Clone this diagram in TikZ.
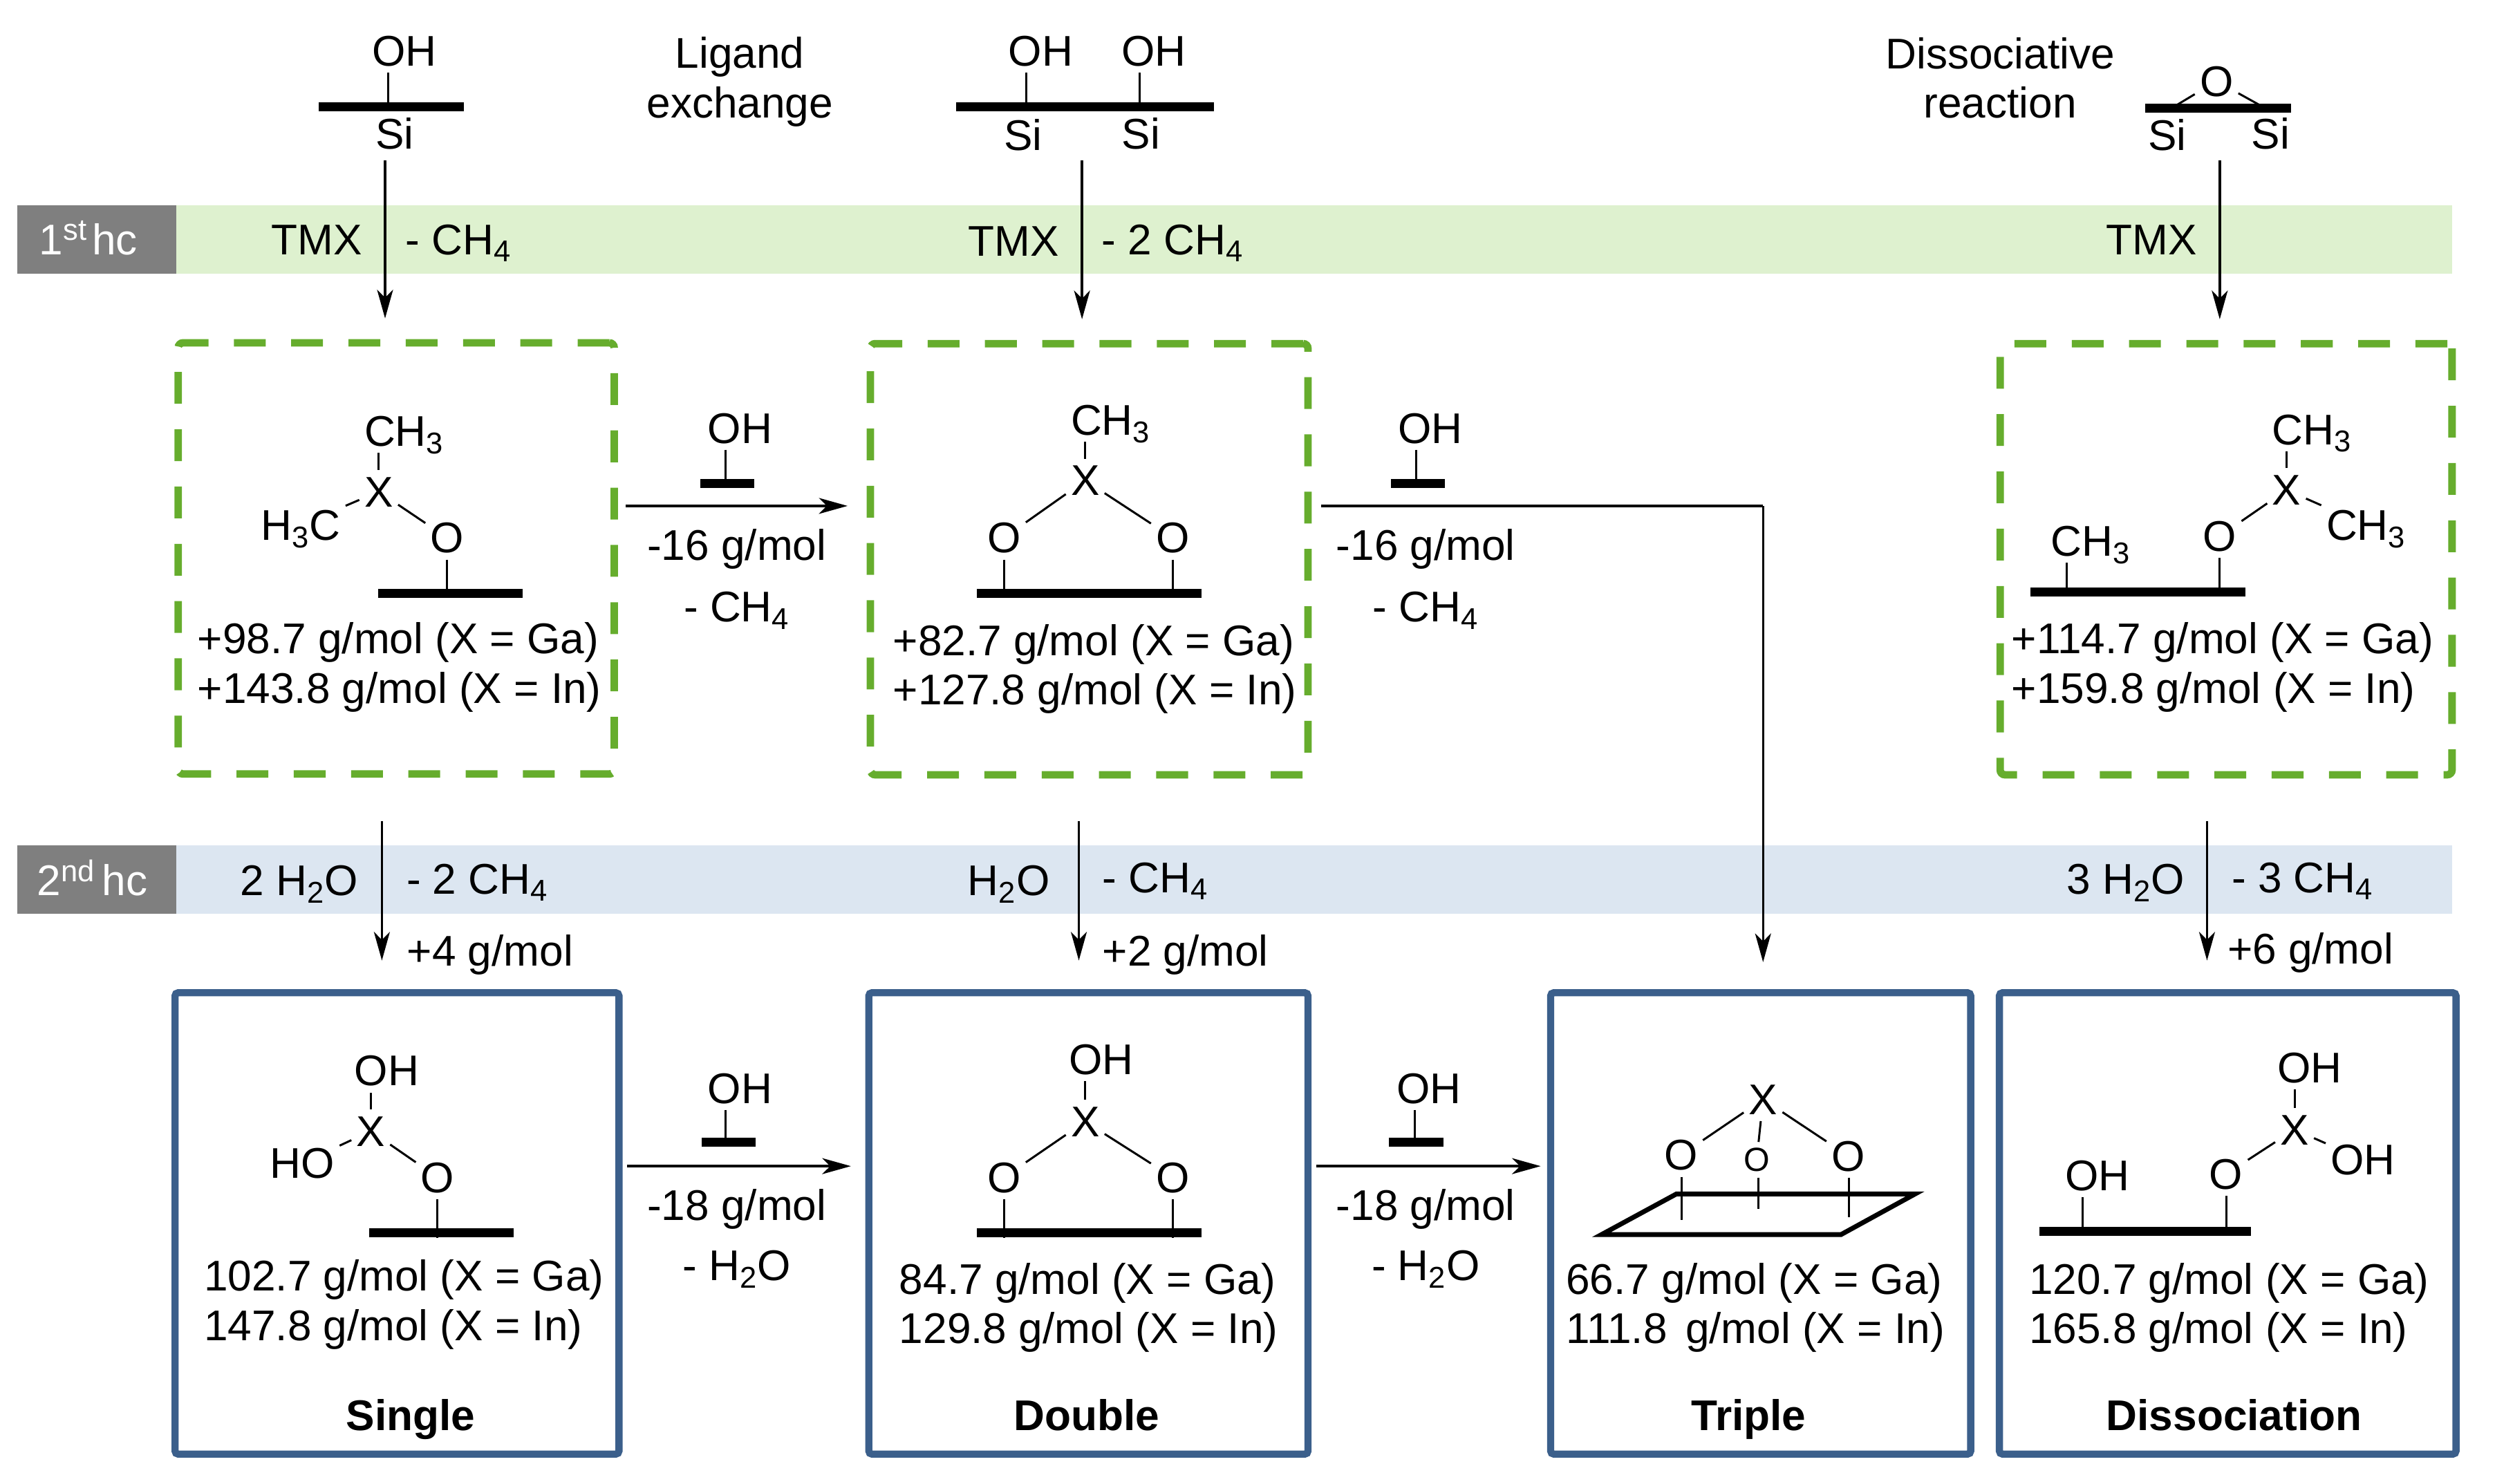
\documentclass[tikz,border=0pt]{standalone}
\usepackage{fontspec}
\usepackage{xcolor}
\setmainfont{Liberation Sans}
\usepackage{tikz}
\usetikzlibrary{arrows.meta, positioning}

\definecolor{bandgreen}{HTML}{DEF1CF}
\definecolor{bandblue}{HTML}{DCE6F1}
\definecolor{bandgray}{HTML}{7F7F7F}
\definecolor{dashgreen}{HTML}{66AD2D}
\definecolor{boxblue}{HTML}{3B5F8B}

\begin{document}
\begin{tikzpicture}[
    x=1pt, y=-1pt,
    txt/.style={font=\fontsize{27}{31}\selectfont, inner sep=0pt},
    lbl/.style={txt, text height=20pt, text depth=2pt},
    atom/.style={txt, inner sep=3pt, text height=20pt, text depth=1pt},
    smallatom/.style={atom, font=\fontsize{21}{25}\selectfont, text height=15pt},
    mass/.style={txt, anchor=west, align=left},
    title/.style={lbl, font=\fontsize{27}{31}\selectfont\bfseries},
    band/.style={inner sep=0pt, minimum height=43pt},
    tag/.style={band, fill=bandgray, minimum width=100pt},
    tagtxt/.style={lbl, text=white},
    dashbox/.style={draw=dashgreen, line width=4.7pt, rounded corners=3pt, dash pattern=on 20pt off 16pt, inner sep=0pt},
    solidbox/.style={draw=boxblue, line width=4.5pt, rounded corners=2pt, inner sep=0pt},
    slab/.style={fill=black, inner sep=0pt, minimum height=5.5pt},
    bond/.style={line width=1.3pt},
    flow/.style={line width=1.5pt, -{Stealth[length=18pt,width=10pt,inset=5pt]}},
]
\useasboundingbox (0,0) rectangle (1568,932.4);

% Bands for the two half cycles
\node[band, fill=bandgreen, minimum width=1430pt] (bandA) at (826,150.5) {};
\node[band, fill=bandblue, minimum width=1430pt] (bandB) at (826,553) {};
\node[tag] (tagA) at (61,150.5) {};
\node[tag] (tagB) at (61,553) {};
\node[tagtxt] (tagTxtA) at (55.5,151) {1\textsuperscript{st}\hspace{3pt}hc};
\node[tagtxt] (tagTxtB) at (58,554) {2\textsuperscript{nd}\hspace{4.5pt}hc};

% Product boxes, first half cycle
\node[dashbox, minimum width=274pt, minimum height=271pt] (dashA) at (249,351) {};
\node[dashbox, minimum width=275pt, minimum height=271pt] (dashB) at (684.5,351.5) {};
\node[dashbox, minimum width=284pt, minimum height=271pt] (dashC) at (1399,351.5) {};

% Product boxes, second half cycle
\node[solidbox, minimum width=279pt, minimum height=290pt] (solidA) at (249.5,769) {};
\node[solidbox, minimum width=276pt, minimum height=290pt] (solidB) at (684,769) {};
\node[solidbox, minimum width=264pt, minimum height=290pt] (solidC) at (1106.5,769) {};
\node[solidbox, minimum width=287pt, minimum height=290pt] (solidD) at (1400,769) {};

% Section labels
\node[txt, align=center] (ligand) at (465,51.5) {Ligand\\exchange};
\node[txt, align=center] (dissoc) at (1257,49) {Dissociative\\reaction};

% Surface, single OH
\node[atom] (ohTop) at (254,32) {OH};
\node[slab, minimum width=91pt] (barTop) at (246,67) {};
\node[atom] (siTop) at (248,84) {Si};
\draw[bond] ([xshift=-10pt]ohTop.south) -- ([xshift=-10pt]ohTop.south |- barTop.center);

% Surface, two OH
\node[atom] (ohTopL) at (654,32) {OH};
\node[atom] (ohTopR) at (725,32) {OH};
\node[slab, minimum width=162pt] (barTwo) at (682,67) {};
\node[atom] (siTwoL) at (643,85) {Si};
\node[atom] (siTwoR) at (717,84) {Si};
\draw[bond] ([xshift=-9pt]ohTopL.south) -- ([xshift=-9pt]ohTopL.south |- barTwo.center);
\draw[bond] ([xshift=-9pt]ohTopR.south) -- ([xshift=-9pt]ohTopR.south |- barTwo.center);

% Surface, siloxane bridge
\node[atom] (oDis) at (1393,51) {O};
\node[slab, minimum width=92pt] (barDis) at (1394,68) {};
\node[atom] (siDisL) at (1362,85) {Si};
\node[atom] (siDisR) at (1427,84) {Si};
\coordinate (disL) at (1368,66);
\coordinate (disR) at (1420,66);
\draw[bond] (oDis) -- (disL);
\draw[bond] (oDis) -- (disR);

% First half cycle arrows
\coordinate (startA) at (242,101);
\coordinate (startB) at (680,101);
\coordinate (startC) at (1395,101);
\draw[flow, shorten >=13pt] (startA) -- (startA |- dashA.north);
\draw[flow, shorten >=13pt] (startB) -- (startB |- dashB.north);
\draw[flow, shorten >=13pt] (startC) -- (startC |- dashC.north);
\node[lbl] (tmxA) at (199,151) {TMX};
\node[lbl] (lossA) at (288,151) {- CH\textsubscript{4}};
\node[lbl] (tmxB) at (637,152) {TMX};
\node[lbl] (lossB) at (737,151) {- 2 CH\textsubscript{4}};
\node[lbl] (tmxC) at (1352,151) {TMX};

% Structure in dashA
\node[atom] (chA) at (254,271) {CH\textsubscript{3}};
\node[atom] (xA) at (238,309) {X};
\node[atom] (hcA) at (189,330) {H\textsubscript{3}C};
\node[atom] (oA) at (281,338) {O};
\node[slab, minimum width=91pt] (barA) at (283,373) {};
\draw[bond] (xA.north) -- (xA.north |- chA.south);
\draw[bond] (xA) -- (hcA);
\draw[bond] (xA) -- (oA);
\draw[bond] (oA.south) -- (oA.south |- barA.south);
\node[mass] (massA) at (124,419.5) {+98.7 g/mol (X = Ga)\\+143.8 g/mol (X = In)};

% Structure in dashB
\node[atom] (chB) at (698,264) {CH\textsubscript{3}};
\node[atom] (xB) at (682,302) {X};
\node[atom] (oBL) at (631,338) {O};
\node[atom] (oBR) at (737,338) {O};
\node[slab, minimum width=141pt] (barB) at (684.5,373) {};
\draw[bond] (xB.north) -- (xB.north |- chB.south);
\draw[bond] (xB) -- (oBL);
\draw[bond] (xB) -- (oBR);
\draw[bond] (oBL.south) -- (oBL.south |- barB.south);
\draw[bond] (oBR.south) -- (oBR.south |- barB.south);
\node[mass] (massB) at (561,420.5) {+82.7 g/mol (X = Ga)\\+127.8 g/mol (X = In)};

% Structure in dashC
\node[atom] (chC) at (1453,270) {CH\textsubscript{3}};
\node[atom] (xC) at (1437,308) {X};
\node[atom] (chCR) at (1487,330) {CH\textsubscript{3}};
\node[atom] (oC) at (1395,337) {O};
\node[atom] (chCL) at (1314,340) {CH\textsubscript{3}};
\node[slab, minimum width=135pt] (barC) at (1343.5,372) {};
\draw[bond] (xC.north) -- (xC.north |- chC.south);
\draw[bond] (xC) -- (oC);
\draw[bond] (xC) -- (chCR);
\draw[bond] (oC.south) -- (oC.south |- barC.south);
\draw[bond] ([xshift=-15pt]chCL.south) -- ([xshift=-15pt]chCL.south |- barC.south);
\node[mass] (massC) at (1264,419.5) {+114.7 g/mol (X = Ga)\\+159.8 g/mol (X = In)};

% Ligand exchange, first half cycle
\coordinate (rowA) at (0,318);
\coordinate (tripDrop) at (1108,318);
\draw[flow, shorten <=5pt, shorten >=12pt] (dashA.east |- rowA) -- (dashB.west |- rowA);
\draw[line width=1.5pt, shorten <=6pt] (dashB.east |- rowA) -- (tripDrop);
\draw[flow, shorten >=17pt] (tripDrop) -- (tripDrop |- solidC.north);
\node[atom] (ohA) at (465,269) {OH};
\node[slab, minimum width=34pt] (barOhA) at (457,304) {};
\draw[bond] ([xshift=-9pt]ohA.south) -- ([xshift=-9pt]ohA.south |- barOhA.center);
\node[lbl] (gainA) at (463,343) {-16 g/mol};
\node[lbl] (lossC) at (463,382) {- CH\textsubscript{4}};
\node[atom] (ohB) at (899,269) {OH};
\node[slab, minimum width=34pt] (barOhB) at (891,304) {};
\draw[bond] ([xshift=-9pt]ohB.south) -- ([xshift=-9pt]ohB.south |- barOhB.center);
\node[lbl] (gainB) at (896,343) {-16 g/mol};
\node[lbl] (lossD) at (896,382) {- CH\textsubscript{4}};

% Second half cycle arrows
\coordinate (waterA) at (240,516);
\coordinate (waterB) at (678,516);
\coordinate (waterC) at (1387,516);
\draw[flow, shorten >=18pt] (waterA) -- (waterA |- solidA.north);
\draw[flow, shorten >=18pt] (waterB) -- (waterB |- solidB.north);
\draw[flow, shorten >=18pt] (waterC) -- (waterC |- solidD.north);
\node[lbl] (waterTxtA) at (188,554) {2 H\textsubscript{2}O};
\node[lbl] (methTxtA) at (300,553) {- 2 CH\textsubscript{4}};
\node[lbl] (waterTxtB) at (634,554) {H\textsubscript{2}O};
\node[lbl] (methTxtB) at (726,552) {- CH\textsubscript{4}};
\node[lbl] (waterTxtC) at (1336,553) {3 H\textsubscript{2}O};
\node[lbl] (methTxtC) at (1447,552) {- 3 CH\textsubscript{4}};
\node[lbl] (plusA) at (308,598) {+4 g/mol};
\node[lbl] (plusB) at (745,598) {+2 g/mol};
\node[lbl] (plusC) at (1452,597) {+6 g/mol};

% Structure in solidA
\node[atom] (ohSA) at (243,673) {OH};
\node[atom] (xSA) at (233,711) {X};
\node[atom] (hoSA) at (190,731) {HO};
\node[atom] (oSA) at (275,740) {O};
\node[slab, minimum width=91pt] (barSA) at (277.5,775) {};
\draw[bond] (xSA.north) -- (xSA.north |- ohSA.south);
\draw[bond] (xSA) -- (hoSA);
\draw[bond] (xSA) -- (oSA);
\draw[bond] (oSA.south) -- (oSA.south |- barSA.south);
\node[mass] (massSA) at (128,820) {102.7 g/mol (X = Ga)\\147.8 g/mol (X = In)};
\node[title] (single) at (258,890) {Single};

% Structure in solidB
\node[atom] (ohSB) at (692,666) {OH};
\node[atom] (xSB) at (682,705) {X};
\node[atom] (oSBL) at (631,740) {O};
\node[atom] (oSBR) at (737,740) {O};
\node[slab, minimum width=141pt] (barSB) at (684.5,775) {};
\draw[bond] (xSB.north) -- (xSB.north |- ohSB.south);
\draw[bond] (xSB) -- (oSBL);
\draw[bond] (xSB) -- (oSBR);
\draw[bond] (oSBL.south) -- (oSBL.south |- barSB.south);
\draw[bond] (oSBR.south) -- (oSBR.south |- barSB.south);
\node[mass] (massSB) at (565,822) {84.7 g/mol (X = Ga)\\129.8 g/mol (X = In)};
\node[title] (double) at (683,890) {Double};

% Structure in solidC
\node[atom] (xSC) at (1108,691) {X};
\node[atom] (oSCL) at (1056.5,726) {O};
\node[smallatom] (oSCM) at (1104,729) {O};
\node[atom] (oSCR) at (1161.5,726.5) {O};
\draw[bond] (xSC) -- (oSCL);
\draw[bond] (xSC) -- (oSCM);
\draw[bond] (xSC) -- (oSCR);
\draw[line width=3pt] (1053.5,750.5) -- (1203.5,750.5) -- (1157,776) -- (1006.5,776) -- cycle;
\coordinate (footL) at (1057,767);
\coordinate (footM) at (1105,760);
\coordinate (footR) at (1162,765);
\draw[bond] (oSCL.south -| footL) -- (footL);
\draw[bond] (oSCM.south -| footM) -- (footM);
\draw[bond] (oSCR.south -| footR) -- (footR);
\node[mass] (massSC) at (984,822) {66.7 g/mol (X = Ga)\\111.8\hspace{11.5pt}g/mol (X = In)};
\node[title] (triple) at (1099,890) {Triple};

% Structure in solidD
\node[atom] (ohSD) at (1451.5,671) {OH};
\node[atom] (xSD) at (1442,710) {X};
\node[atom] (ohSDR) at (1485,729) {OH};
\node[atom] (oSD) at (1399,738) {O};
\node[atom] (ohSDL) at (1318,739) {OH};
\node[slab, minimum width=133pt] (barSD) at (1348,774) {};
\draw[bond] (xSD.north) -- (xSD.north |- ohSD.south);
\draw[bond] (xSD) -- (oSD);
\draw[bond] (xSD) -- (ohSDR);
\draw[bond] (oSD.south) -- (oSD.south |- barSD.south);
\draw[bond] ([xshift=-9pt]ohSDL.south) -- ([xshift=-9pt]ohSDL.south |- barSD.south);
\node[mass] (massSD) at (1275,822) {120.7 g/mol (X = Ga)\\165.8 g/mol (X = In)};
\node[title] (dissociation) at (1404,890) {Dissociation};

% Ligand exchange, second half cycle
\coordinate (rowB) at (0,733);
\draw[flow, shorten <=3pt, shorten >=9pt] (solidA.east |- rowB) -- (solidB.west |- rowB);
\draw[flow, shorten <=3pt, shorten >=4pt] (solidB.east |- rowB) -- (solidC.west |- rowB);
\node[atom] (ohC) at (465,684) {OH};
\node[slab, minimum width=34pt] (barOhC) at (458,718) {};
\draw[bond] ([xshift=-9pt]ohC.south) -- ([xshift=-9pt]ohC.south |- barOhC.center);
\node[lbl] (gainC) at (463,758) {-18 g/mol};
\node[lbl] (waterOutA) at (463,796) {- H\textsubscript{2}O};
\node[atom] (ohD) at (898,684) {OH};
\node[slab, minimum width=34pt] (barOhD) at (890,718) {};
\draw[bond] ([xshift=-9pt]ohD.south) -- ([xshift=-9pt]ohD.south |- barOhD.center);
\node[lbl] (gainD) at (896,758) {-18 g/mol};
\node[lbl] (waterOutB) at (896,796) {- H\textsubscript{2}O};

\end{tikzpicture}
\end{document}
